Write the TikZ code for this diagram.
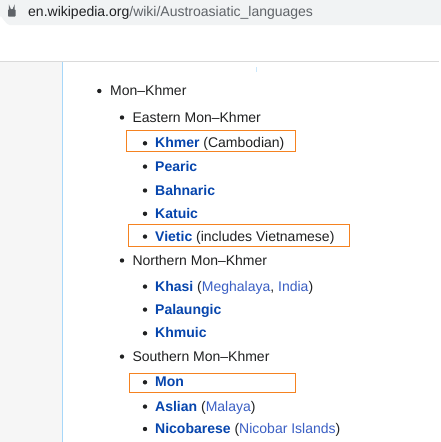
\documentclass[tikz,border=0pt]{standalone}
\usepackage{fontspec}
\setmainfont{Liberation Sans}
\definecolor{txt}{HTML}{202122}
\definecolor{lnk}{HTML}{0645AD}
\definecolor{lnklight}{HTML}{3A5FC4}
\definecolor{barbg}{HTML}{F1F3F4}
\definecolor{urldark}{HTML}{202124}
\definecolor{urlgrey}{HTML}{5F6368}
\definecolor{sidebg}{HTML}{F6F6F6}
\definecolor{sideline}{HTML}{A7D7F9}
\definecolor{hrule}{HTML}{DADADA}
\definecolor{hlor}{HTML}{F58220}
\newcommand{\boldlink}[1]{{\bfseries\color{lnk}#1}}
\newcommand{\plainlink}[1]{{\color{lnklight}#1}}
\begin{document}
\begin{tikzpicture}[x=1pt,y=-1pt,
  item/.style={anchor=base west, inner sep=0pt, font=\fontsize{14}{16}\selectfont, text=txt},
  dot/.style={fill=txt, circle, inner sep=0pt, minimum size=4.4pt, draw=none},
  hl/.style={draw=hlor, line width=1pt}]
\useasboundingbox (0,0) rectangle (441,442);
\fill[white] (0,0) rectangle (441,442);
% address bar
\fill[barbg] (0,0) -- (441,0) -- (441,25) -- (10,25) to[out=180,in=90] (0,17) -- cycle;
% lock icon
\fill[urlgrey, rounded corners=0.6pt] (8,9.5) rectangle (15.5,16.5);
\draw[urlgrey, line width=1.4pt] (9.6,10) -- (9.6,8) arc (180:0:2.15) -- (13.9,10);
\node[anchor=base west, inner sep=0pt, font=\fontsize{14}{16}\selectfont] (url) at (28,16)
  {\color{urldark}en.wikipedia.org\color{urlgrey}/wiki/Austroasiatic\_languages};
% page frame
\fill[sidebg] (0,62) rectangle (62,442);
\draw[hrule, line width=1.5pt] (0,61.5) -- (439,61.5);
\draw[sideline, line width=1.2pt] (62.6,62) -- (62.6,442);
\draw[sideline!60, line width=0.8pt] (256,67) -- (256,72);
% list
\node[dot] (b1) at (99.3,91) {};
\node[item] (t1) at (110,95.5) {Mon–Khmer};
\node[dot] (b2) at (122,117.5) {};
\node[item] (t2) at (132.3,122) {Eastern Mon–Khmer};
\node[dot] (b3) at (145,143.3) {};
\node[item] (t3) at (155,147.7) {\boldlink{Khmer} (Cambodian)};
\node[dot] (b4) at (145,166.6) {};
\node[item] (t4) at (155,171) {\boldlink{Pearic}};
\node[dot] (b5) at (145,190.5) {};
\node[item] (t5) at (155,195) {\boldlink{Bahnaric}};
\node[dot] (b6) at (145,213.8) {};
\node[item] (t6) at (155,218.3) {\boldlink{Katuic}};
\node[dot] (b7) at (145,236.6) {};
\node[item] (t7) at (155,241) {\boldlink{Vietic} (includes Vietnamese)};
\node[dot] (b8) at (122,260.5) {};
\node[item] (t8) at (132.3,265) {Northern Mon–Khmer};
\node[dot] (b9) at (145,286.6) {};
\node[item] (t9) at (155,291) {\boldlink{Khasi} (\plainlink{Meghalaya}, \plainlink{India})};
\node[dot] (b10) at (145,309.6) {};
\node[item] (t10) at (155,314) {\boldlink{Palaungic}};
\node[dot] (b11) at (145,333.3) {};
\node[item] (t11) at (155,337.7) {\boldlink{Khmuic}};
\node[dot] (b12) at (122,356.6) {};
\node[item] (t12) at (132.3,361) {Southern Mon–Khmer};
\node[dot] (b13) at (145,382.3) {};
\node[item] (t13) at (155,386.7) {\boldlink{Mon}};
\node[dot] (b14) at (145,406.6) {};
\node[item] (t14) at (155,411) {\boldlink{Aslian} (\plainlink{Malaya})};
\node[dot] (b15) at (145,429) {};
\node[item] (t15) at (155,433.3) {\boldlink{Nicobarese} (\plainlink{Nicobar Islands})};
% highlight boxes
\draw[hl] (126.8,130.5) rectangle (295.7,151);
\draw[hl] (128.3,224.5) rectangle (349.3,246);
\draw[hl] (129.3,373.3) rectangle (295,392.3);
\end{tikzpicture}
\end{document}
